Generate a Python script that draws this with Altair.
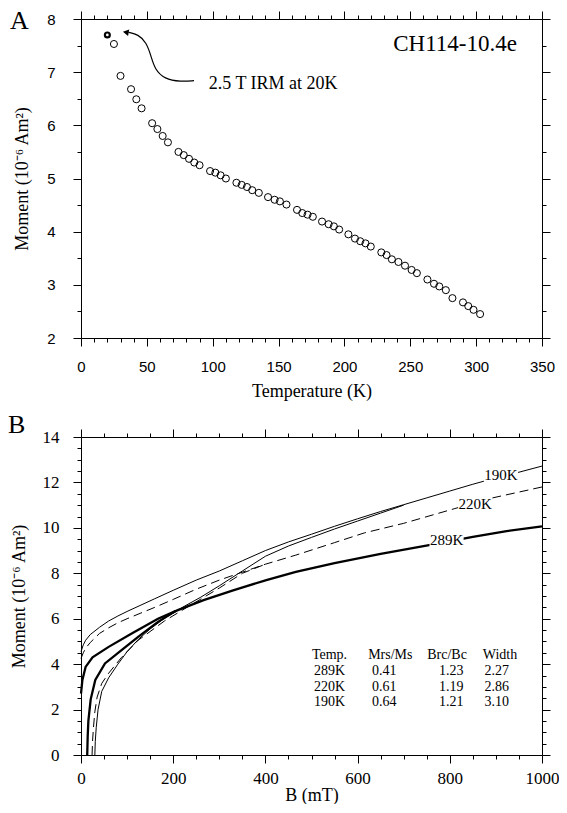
import altair as alt
import pandas as pd

# ---------------- Panel A: IRM warming curve ----------------
temp_k = [20, 25, 30, 38, 42, 46, 54, 58, 62, 66, 74, 78, 82, 86, 90, 98, 102, 106, 110,
          118, 122, 126, 130, 135, 142, 147, 151, 156, 164, 168, 172, 176, 183, 188, 192, 196,
          203, 208, 212, 216, 220, 228, 232, 236, 241, 246, 251, 255, 263, 268, 272, 277, 282,
          290, 294, 298, 303]
moment_a = [7.70, 7.53, 6.93, 6.68, 6.49, 6.32, 6.04, 5.93, 5.80, 5.68, 5.50, 5.44, 5.37, 5.30,
            5.25, 5.14, 5.11, 5.06, 5.00, 4.92, 4.88, 4.84, 4.78, 4.73, 4.65, 4.60, 4.57, 4.51,
            4.41, 4.35, 4.32, 4.28, 4.19, 4.14, 4.10, 4.04, 3.95, 3.87, 3.82, 3.78, 3.72, 3.61,
            3.56, 3.48, 3.43, 3.36, 3.28, 3.22, 3.10, 3.02, 2.97, 2.90, 2.75, 2.67, 2.60, 2.53, 2.45]

arrow_t = [85.8, 75.8, 63.4, 55.9, 53.1, 49.6, 43.4, 36.0]
arrow_m = [6.84, 6.82, 6.87, 7.06, 7.31, 7.56, 7.71, 7.75]
arrow_head_t = [34.0]
arrow_head_m = [7.75]

# ---------------- Panel B: hysteresis branches ----------------
b190_up = [0, 5, 10, 20, 40, 60, 80, 100, 130, 160, 200, 250, 300, 350, 400, 450, 500, 550,
           600, 650, 700, 750, 800, 850, 900, 950, 1000]
m190_up = [4.55, 4.85, 5.05, 5.3, 5.62, 5.9, 6.12, 6.32, 6.6, 6.88, 7.25, 7.7, 8.1, 8.55, 9.0,
           9.38, 9.72, 10.07, 10.4, 10.72, 11.02, 11.32, 11.62, 11.92, 12.2, 12.45, 12.72]
b190_lo = [30, 31, 33, 37, 45, 60, 80, 100, 125, 150, 180, 220, 260, 300, 350, 400, 450, 500,
           550, 600, 650, 700]
m190_lo = [0, 0.6, 1.2, 2.0, 2.8, 3.4, 4.0, 4.55, 5.1, 5.55, 6.0, 6.5, 6.95, 7.45, 8.1, 8.75,
           9.2, 9.58, 9.95, 10.3, 10.65, 11.0]

b220_up = [0, 5, 10, 20, 40, 60, 80, 100, 130, 160, 200, 250, 300, 350, 400, 466, 550, 615,
           700, 811, 893, 1000]
m220_up = [4.25, 4.5, 4.7, 4.95, 5.35, 5.6, 5.82, 6.0, 6.25, 6.5, 6.85, 7.3, 7.7, 8.05, 8.4,
           8.8, 9.35, 9.78, 10.2, 10.85, 11.32, 11.8]
b220_lo = [24, 25, 27, 30, 35, 45, 60, 88, 124, 181, 238, 300, 350, 400]
m220_lo = [0, 0.6, 1.2, 1.9, 2.55, 3.15, 3.6, 4.3, 5.05, 5.9, 6.6, 7.35, 8.0, 8.4]

b289_up = [0, 3, 10, 25, 60, 110, 167, 210, 266, 330, 402, 466, 550, 650, 758, 850, 920, 1000]
m289_up = [2.7, 3.3, 3.88, 4.3, 4.76, 5.35, 6.0, 6.38, 6.82, 7.25, 7.7, 8.06, 8.45, 8.85,
           9.25, 9.6, 9.85, 10.07]
b289_lo = [13.5, 14.5, 16, 21, 31, 52, 88, 124, 167, 205]
m289_lo = [0, 0.8, 1.5, 2.45, 3.3, 4.03, 4.62, 5.2, 5.86, 6.34]

curve_labels = ["190K", "220K", "289K"]
curve_label_b = [911, 855, 793]
curve_label_m = [12.31, 11.07, 9.45]

table_header = ["Temp.", "Mrs/Ms", "Brc/Bc", "Width"]
table_rows = [["289K", "0.41", "1.23", "2.27"],
              ["220K", "0.61", "1.19", "2.86"],
              ["190K", "0.64", "1.21", "3.10"]]

SERIF = "Liberation Serif"
SANS = "Liberation Sans"
PW = 461


def make_axis(orient, values, major, labels, font, fsize, pad, title=None, tpad=0, tsize=18):
    test = f"abs(datum.value / {major} - round(datum.value / {major})) < 1e-6"
    kw = dict(
        orient=orient, values=values, grid=False, domain=True, domainColor="black",
        domainWidth=1, ticks=True, tickColor="black", tickWidth=1,
        tickSize={"condition": {"test": test, "value": 8}, "value": 4},
        labels=labels, labelOverlap=False, labelFlush=False, labelBound=False,
    )
    if labels:
        kw.update(labelExpr=f"{test} ? '' + datum.value : ''", labelFont=font,
                  labelFontSize=fsize, labelColor="black", labelPadding=pad)
    if title is not None:
        kw.update(title=title, titleFont=SERIF, titleFontSize=tsize,
                  titleFontWeight="normal", titleColor="black", titlePadding=tpad)
    else:
        kw.update(title=None)
    return alt.Axis(**kw)


# ---------------- Panel A chart ----------------
dfA = pd.DataFrame({"T": temp_k, "M": moment_a})
xA = alt.Scale(domain=[0, 350], nice=False, zero=False)
yA = alt.Scale(domain=[2, 8], nice=False, zero=False)
xvalsA = list(range(0, 351, 10))
yvalsA = [2 + 0.5 * i for i in range(13)]

ptsA = alt.Chart(dfA.iloc[1:]).mark_point(
    shape="circle", filled=False, color="black", size=50, strokeWidth=1, opacity=1
).encode(
    x=alt.X("T:Q", scale=xA, axis=make_axis("bottom", xvalsA, 50, True, SANS, 15, 13,
                                           "Temperature (K)", 8)),
    y=alt.Y("M:Q", scale=yA, axis=make_axis("left", yvalsA, 1, True, SANS, 15, 18,
                                           "Moment (10⁻⁶ Am²)", 15)),
)
firstA = alt.Chart(dfA.iloc[:1]).mark_point(
    shape="circle", filled=False, color="black", size=24, strokeWidth=2.2, opacity=1
).encode(
    x=alt.X("T:Q", scale=xA, axis=make_axis("top", xvalsA, 50, False, SANS, 15, 0)),
    y=alt.Y("M:Q", scale=yA, axis=make_axis("right", yvalsA, 1, False, SANS, 15, 0)),
)
dfArrow = pd.DataFrame({"T": arrow_t, "M": arrow_m, "o": list(range(len(arrow_t)))})
arrow = alt.Chart(dfArrow).mark_line(color="black", strokeWidth=1.2, interpolate="basis").encode(
    x=alt.X("T:Q", scale=xA, axis=None), y=alt.Y("M:Q", scale=yA, axis=None), order="o:Q")
head = alt.Chart(pd.DataFrame({"T": arrow_head_t, "M": arrow_head_m})).mark_point(
    shape="triangle-left", filled=True, color="black", size=45, opacity=1, angle=10
).encode(x=alt.X("T:Q", scale=xA, axis=None), y=alt.Y("M:Q", scale=yA, axis=None))

annA = pd.DataFrame({"T": [97, 331], "M": [6.77, 7.53], "txt": ["2.5 T IRM at 20K", "CH114-10.4e"]})
irm_txt = alt.Chart(annA.iloc[:1]).mark_text(
    font=SERIF, fontSize=18, align="left", baseline="middle", color="black"
).encode(x=alt.X("T:Q", scale=xA, axis=None), y=alt.Y("M:Q", scale=yA, axis=None), text="txt:N")
sample_txt = alt.Chart(annA.iloc[1:]).mark_text(
    font=SERIF, fontSize=23, align="right", baseline="middle", color="black"
).encode(x=alt.X("T:Q", scale=xA, axis=None), y=alt.Y("M:Q", scale=yA, axis=None), text="txt:N")
letterA = alt.Chart(pd.DataFrame({"t": ["A"]})).mark_text(
    font=SERIF, fontSize=26, align="left", baseline="alphabetic", color="black"
).encode(x=alt.value(-71), y=alt.value(10), text="t:N")

panelA = alt.layer(ptsA, firstA, arrow, head, irm_txt, sample_txt, letterA).resolve_axis(
    x="independent", y="independent").properties(width=PW, height=319)

# ---------------- Panel B chart ----------------
rows = []
for name, bs, ms in [("190up", b190_up, m190_up), ("190lo", b190_lo, m190_lo),
                     ("220up", b220_up, m220_up), ("220lo", b220_lo, m220_lo),
                     ("289up", b289_up, m289_up), ("289lo", b289_lo, m289_lo)]:
    for i, (b, m) in enumerate(zip(bs, ms)):
        rows.append({"B": b, "M": m, "branch": name, "T": name[:3], "o": i})
dfB = pd.DataFrame(rows)

xB = alt.Scale(domain=[0, 1000], nice=False, zero=False)
yB = alt.Scale(domain=[0, 14], nice=False, zero=False)
xvalsB = list(range(0, 1001, 50))
yvalsB = [0.5 * i for i in range(29)]

thin = alt.Chart(dfB[dfB["T"] == "190"]).mark_line(color="black", strokeWidth=1).encode(
    x=alt.X("B:Q", scale=xB, axis=make_axis("bottom", xvalsB, 200, True, SERIF, 17, 7,
                                           "B (mT)", 0)),
    y=alt.Y("M:Q", scale=yB, axis=make_axis("left", yvalsB, 2, True, SERIF, 17, 14,
                                           "Moment (10⁻⁶ Am²)", 14)),
    detail="branch:N", order="o:Q")
dashed = alt.Chart(dfB[dfB["T"] == "220"]).mark_line(
    color="black", strokeWidth=1, strokeDash=[9, 5]).encode(
    x=alt.X("B:Q", scale=xB, axis=make_axis("top", xvalsB, 200, False, SERIF, 17, 0)),
    y=alt.Y("M:Q", scale=yB, axis=make_axis("right", yvalsB, 2, False, SERIF, 17, 0)),
    detail="branch:N", order="o:Q")
thick = alt.Chart(dfB[dfB["T"] == "289"]).mark_line(color="black", strokeWidth=2.3).encode(
    x=alt.X("B:Q", scale=xB, axis=None), y=alt.Y("M:Q", scale=yB, axis=None),
    detail="branch:N", order="o:Q")

dfLab = pd.DataFrame({"lab": curve_labels, "B": curve_label_b, "M": curve_label_m})
dfLab["B1"] = dfLab["B"] - 37
dfLab["B2"] = dfLab["B"] + 37
dfLab["M1"] = dfLab["M"] - 0.3
dfLab["M2"] = dfLab["M"] + 0.3
lab_bg = alt.Chart(dfLab).mark_rect(color="white", opacity=1).encode(
    x=alt.X("B1:Q", scale=xB, axis=None), x2="B2:Q",
    y=alt.Y("M1:Q", scale=yB, axis=None), y2="M2:Q")
lab_txt = alt.Chart(dfLab).mark_text(font=SERIF, fontSize=15, color="black",
                                      align="center", baseline="middle").encode(
    x=alt.X("B:Q", scale=xB, axis=None), y=alt.Y("M:Q", scale=yB, axis=None), text="lab:N")

head_x = [539, 671, 794, 909]
val_x = [539, 658, 803, 902]
row_m = [4.42, 3.72, 3.01, 2.33]
tab = []
for j, h in enumerate(table_header):
    tab.append({"txt": h, "B": head_x[j], "M": row_m[0]})
for i, r in enumerate(table_rows):
    for j, v in enumerate(r):
        tab.append({"txt": v, "B": val_x[j], "M": row_m[i + 1]})
dfTab = pd.DataFrame(tab)
tab_txt = alt.Chart(dfTab).mark_text(font=SERIF, fontSize=14, color="black",
                                      align="center", baseline="middle").encode(
    x=alt.X("B:Q", scale=xB, axis=None), y=alt.Y("M:Q", scale=yB, axis=None), text="txt:N")

letterB = alt.Chart(pd.DataFrame({"t": ["B"]})).mark_text(
    font=SERIF, fontSize=26, align="left", baseline="alphabetic", color="black"
).encode(x=alt.value(-73), y=alt.value(-4), text="t:N")

panelB = alt.layer(thin, dashed, thick, lab_bg, lab_txt, tab_txt, letterB).resolve_axis(
    x="independent", y="independent").properties(width=PW, height=318)

chart = alt.vconcat(panelA, panelB, spacing=12).properties(
    padding={"left": 0, "top": 0, "right": 0, "bottom": 0}, background="white"
).configure_view(stroke=None)

chart.save("out.html", embed_options={"renderer": "svg", "actions": False})
